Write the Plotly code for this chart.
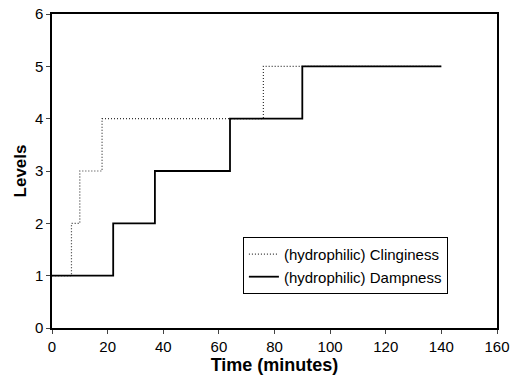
import plotly.graph_objects as go

cling_x = [0, 7, 10, 18, 76, 140]
cling_y = [1, 2, 3, 4, 5, 5]
damp_x = [0, 22, 37, 64, 90, 140]
damp_y = [1, 2, 3, 4, 5, 5]

x_ticks = [0, 20, 40, 60, 80, 100, 120, 140, 160]
y_ticks = [0, 1, 2, 3, 4, 5, 6]

fig = go.Figure()
fig.add_trace(go.Scatter(x=cling_x, y=cling_y, mode="lines", line_shape="hv",
                         line=dict(color="#333333", width=1.2, dash="1px,2px"),
                         name="(hydrophilic) Clinginess"))
fig.add_trace(go.Scatter(x=damp_x, y=damp_y, mode="lines", line_shape="hv",
                         line=dict(color="black", width=1.8),
                         name="(hydrophilic) Dampness"))

fig.update_layout(
    width=510, height=380,
    margin=dict(l=52, r=13, t=14, b=52, autoexpand=False),
    paper_bgcolor="white", plot_bgcolor="white",
    font=dict(family="Liberation Sans, Arial, sans-serif", size=14, color="black"),
    legend=dict(x=0.429, y=0.29, xanchor="left", yanchor="top",
                bgcolor="white", bordercolor="black", borderwidth=1,
                font=dict(size=15), tracegroupgap=0),
    showlegend=True,
)
fig.update_xaxes(range=[0, 160], tickvals=x_ticks, ticks="outside", ticklen=4,
                 tickfont=dict(size=15), automargin=False,
                 showline=True, linecolor="black", linewidth=1.5, mirror=True,
                 showgrid=False, zeroline=False,
                 title=dict(text="<b>Time (minutes)</b>", font=dict(size=18), standoff=2))
fig.update_yaxes(range=[0, 6], tickvals=y_ticks, ticks="outside", ticklen=4,
                 tickfont=dict(size=15), automargin=False,
                 showline=True, linecolor="black", linewidth=1.5, mirror=True,
                 showgrid=False, zeroline=False,
                 title=dict(text="<b>Levels</b>", font=dict(size=17), standoff=4))

fig.write_html("out.html")
